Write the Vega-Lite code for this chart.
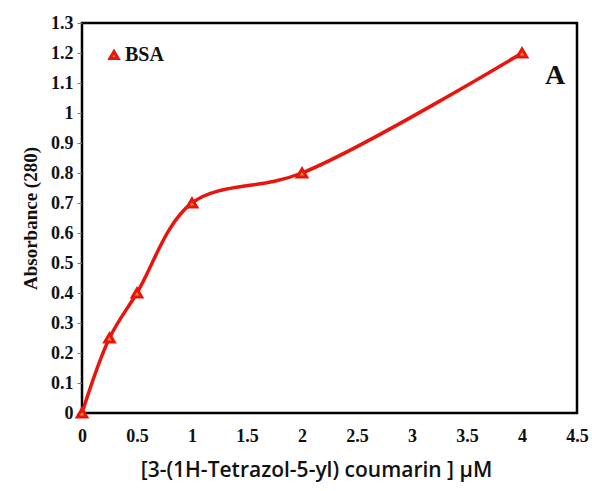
{
  "$schema": "https://vega.github.io/schema/vega-lite/v6.json",
  "width": 495,
  "height": 390,
  "autosize": {"type": "none"},
  "padding": {"left": 82, "top": 23, "right": 15, "bottom": 78},
  "background": "white",
  "config": {
    "view": {"stroke": "black", "strokeWidth": 2.5}
  },
  "encoding": {
    "x": {"field": "x", "type": "quantitative", "scale": {"domain": [0, 4.5], "nice": false},
      "axis": {"values": [0, 0.5, 1, 1.5, 2, 2.5, 3, 3.5, 4, 4.5], "format": "~g", "ticks": false, "labelPadding": 14, "domainWidth": 1, "domainColor": "black", "grid": false,
        "labelFont": "Liberation Serif", "labelFontWeight": "bold", "labelFontSize": 18, "labelColor": "#111", "labelOverlap": false, "labelFlush": false,
        "title": "[3-(1H-Tetrazol-5-yl) coumarin ] μM", "titleFont": "Open Sans", "titleFontSize": 21, "titleFontWeight": 600, "titleColor": "#111", "titlePadding": 14, "titleX": 234}},
    "y": {"field": "y", "type": "quantitative", "scale": {"domain": [0, 1.3], "nice": false},
      "axis": {"values": [0, 0.1, 0.2, 0.3, 0.4, 0.5, 0.6, 0.7, 0.8, 0.9, 1, 1.1, 1.2, 1.3], "format": "~g", "tickSize": 5, "tickColor": "#777", "labelPadding": 4, "domainColor": "black", "grid": false,
        "labelFont": "Liberation Serif", "labelFontWeight": "bold", "labelFontSize": 18, "labelColor": "#111", "labelOverlap": false, "labelFlush": false,
        "title": "Absorbance (280)", "titleFont": "Liberation Serif", "titleFontSize": 19, "titleFontWeight": "bold", "titleColor": "#111", "titlePadding": 10}}
  },
  "layer": [
    {
      "data": {"values": [
        {"x": 0, "y": 0, "series": "BSA"},
        {"x": 0.25, "y": 0.25, "series": "BSA"},
        {"x": 0.5, "y": 0.4, "series": "BSA"},
        {"x": 1, "y": 0.7, "series": "BSA"},
        {"x": 2, "y": 0.8, "series": "BSA"},
        {"x": 4, "y": 1.2, "series": "BSA"}
      ]},
      "layer": [
        {
          "mark": {"type": "line", "color": "#e8150f", "strokeWidth": 3.5, "interpolate": "catmull-rom"},
          "encoding": {}
        },
        {
          "mark": {"type": "point", "shape": "triangle-up", "filled": true, "fill": "#f08a24", "strokeWidth": 3, "size": 90, "opacity": 1},
          "encoding": {
            "stroke": {"field": "series", "type": "nominal", "scale": {"range": ["#e8150f"]},
              "legend": {"title": null, "orient": "none", "legendX": 22, "legendY": 22, "symbolType": "triangle-up", "symbolFillColor": "#f08a24", "symbolStrokeWidth": 3, "symbolSize": 70, "labelFont": "Liberation Serif", "labelFontWeight": "bold", "labelFontSize": 20, "labelColor": "#111", "labelOffset": 1}}
          }
        }
      ]
    },
    {
      "data": {"values": [{"x": 4.3, "y": 1.125, "label": "A"}]},
      "mark": {"type": "text", "font": "Liberation Serif", "fontWeight": "bold", "fontSize": 28, "color": "#111"},
      "encoding": {
        "text": {"field": "label"}
      }
    }
  ]
}
